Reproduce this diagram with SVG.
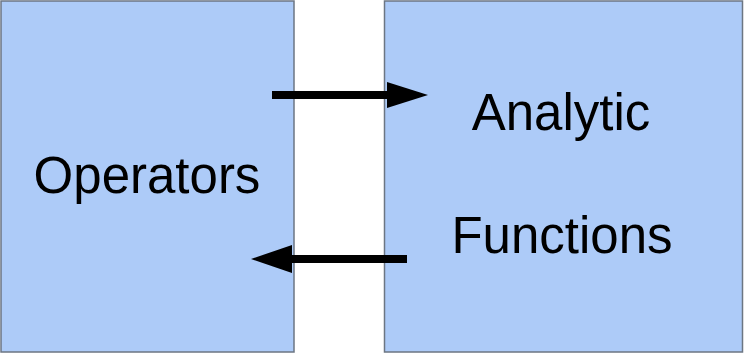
<svg xmlns="http://www.w3.org/2000/svg" width="744" height="353" viewBox="0 0 744 353">
<style>
.box{fill:#adcbf8;stroke:#6c7683;stroke-width:1.5}
.lbl{font-family:"Liberation Sans",Arial,sans-serif;font-size:51px;fill:#000;text-anchor:middle}
.arr{stroke:#000;stroke-width:8;fill:none}
</style>
<rect width="744" height="353" fill="#ffffff"/>
<g id="operators">
<rect class="box" x="1" y="1" width="293" height="351"/>
<text class="lbl" x="147" y="193">Operators</text>
</g>
<g id="analytic-functions">
<rect class="box" x="384.5" y="1" width="358" height="351"/>
<text class="lbl" x="561" y="130">Analytic</text>
<text class="lbl" x="562" y="253">Functions</text>
</g>
<g id="connectors">
<line class="arr" x1="272" y1="95" x2="390" y2="95"/>
<polygon points="387,82 428,95 387,108" fill="#000"/>
<line class="arr" x1="407" y1="259" x2="290" y2="259"/>
<polygon points="292,245 251,259 292,273" fill="#000"/>
</g>
</svg>
